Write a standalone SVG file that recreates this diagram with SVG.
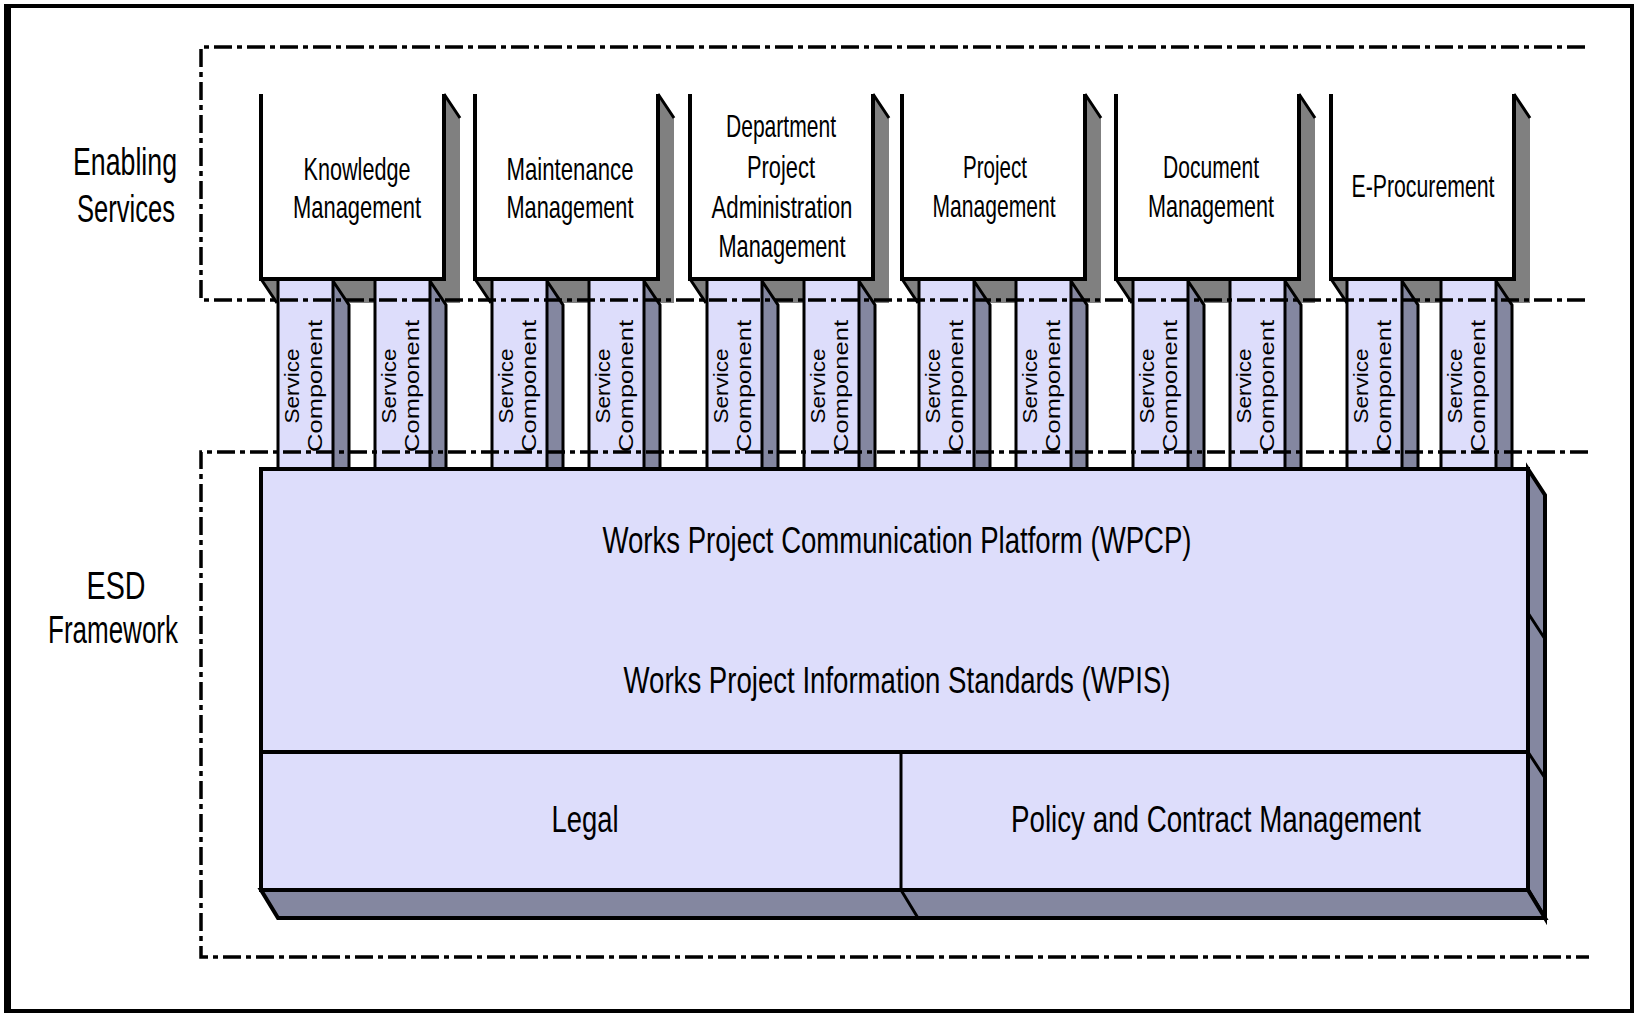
<svg xmlns="http://www.w3.org/2000/svg" xmlns:xlink="http://www.w3.org/1999/xlink" width="1635" height="1013" viewBox="0 0 1635 1013">
<style>
.t{font-family:"Liberation Sans",Arial,sans-serif;fill:#000;text-anchor:middle}
.lbl{font-size:38px}
.bx{font-size:32px}
.big{font-size:36px}
.sc{font-size:20px}
.edge{fill:none;stroke:#000;stroke-width:4}
.ln{fill:none;stroke:#000;stroke-width:3}
.shade{fill:#808080}
.front{fill:#fff}
.lav{fill:#DDDDFB}
.side{fill:#8487A0}
.dash{fill:none;stroke:#000;stroke-width:3.5;stroke-dasharray:18 5 5 5}
</style>
<defs>
<g id="colshape">
<rect class="lav" x="0" y="281" width="55" height="188"/>
<polygon class="side" points="55,281 71,305 71,469 55,469"/>
<path class="ln" d="M0,281V469M55,281V469M55,281L71,305V469"/>
</g>
<g id="boxshade">
<polygon class="shade" points="0,279 183,279 183,94 199,118 199,303 16,303"/>
<path class="ln" d="M183,94L199,118M0,279L16,303"/>
</g>
<g id="boxfront">
<rect class="front" x="0" y="94" width="183" height="185"/>
<polyline class="edge" points="0,94 0,279 183,279 183,94"/>
</g>
</defs>

<rect x="6" y="6" width="1626" height="1005" fill="#fff" stroke="#000" stroke-width="4"/>
<line x1="7.5" y1="4" x2="7.5" y2="1013" stroke="#000" stroke-width="7"/>

<g id="side-labels">
<text class="t lbl" x="125" y="175" textLength="104" lengthAdjust="spacingAndGlyphs">Enabling</text>
<text class="t lbl" x="126" y="222" textLength="98" lengthAdjust="spacingAndGlyphs">Services</text>
<text class="t lbl" x="116" y="599" textLength="59" lengthAdjust="spacingAndGlyphs">ESD</text>
<text class="t lbl" x="113" y="643" textLength="130" lengthAdjust="spacingAndGlyphs">Framework</text>
</g>

<!-- Box 1 -->
<g id="box-knowledge">
<use xlink:href="#boxshade" x="261"/>
<g id="sc-1a"><use xlink:href="#colshape" x="278"/>
<text class="t sc" transform="translate(299,386) rotate(-90)" textLength="75" lengthAdjust="spacingAndGlyphs">Service</text>
<text class="t sc" transform="translate(322,386) rotate(-90)" textLength="132" lengthAdjust="spacingAndGlyphs">Component</text></g>
<g id="sc-1b"><use xlink:href="#colshape" x="375"/>
<text class="t sc" transform="translate(396,386) rotate(-90)" textLength="75" lengthAdjust="spacingAndGlyphs">Service</text>
<text class="t sc" transform="translate(419,386) rotate(-90)" textLength="132" lengthAdjust="spacingAndGlyphs">Component</text></g>
<use xlink:href="#boxfront" x="261"/>
<text class="t bx" x="357" y="180" textLength="107" lengthAdjust="spacingAndGlyphs">Knowledge</text>
<text class="t bx" x="357" y="218" textLength="128" lengthAdjust="spacingAndGlyphs">Management</text>
</g>

<!-- Box 2 -->
<g id="box-maintenance">
<use xlink:href="#boxshade" x="475"/>
<g id="sc-2a"><use xlink:href="#colshape" x="492"/>
<text class="t sc" transform="translate(513,386) rotate(-90)" textLength="75" lengthAdjust="spacingAndGlyphs">Service</text>
<text class="t sc" transform="translate(536,386) rotate(-90)" textLength="132" lengthAdjust="spacingAndGlyphs">Component</text></g>
<g id="sc-2b"><use xlink:href="#colshape" x="589"/>
<text class="t sc" transform="translate(610,386) rotate(-90)" textLength="75" lengthAdjust="spacingAndGlyphs">Service</text>
<text class="t sc" transform="translate(633,386) rotate(-90)" textLength="132" lengthAdjust="spacingAndGlyphs">Component</text></g>
<use xlink:href="#boxfront" x="475"/>
<text class="t bx" x="570" y="180" textLength="127" lengthAdjust="spacingAndGlyphs">Maintenance</text>
<text class="t bx" x="570" y="218" textLength="127" lengthAdjust="spacingAndGlyphs">Management</text>
</g>

<!-- Box 3 -->
<g id="box-dpam">
<use xlink:href="#boxshade" x="690"/>
<g id="sc-3a"><use xlink:href="#colshape" x="707"/>
<text class="t sc" transform="translate(728,386) rotate(-90)" textLength="75" lengthAdjust="spacingAndGlyphs">Service</text>
<text class="t sc" transform="translate(751,386) rotate(-90)" textLength="132" lengthAdjust="spacingAndGlyphs">Component</text></g>
<g id="sc-3b"><use xlink:href="#colshape" x="804"/>
<text class="t sc" transform="translate(825,386) rotate(-90)" textLength="75" lengthAdjust="spacingAndGlyphs">Service</text>
<text class="t sc" transform="translate(848,386) rotate(-90)" textLength="132" lengthAdjust="spacingAndGlyphs">Component</text></g>
<use xlink:href="#boxfront" x="690"/>
<text class="t bx" x="781" y="137" textLength="110" lengthAdjust="spacingAndGlyphs">Department</text>
<text class="t bx" x="781" y="178" textLength="68" lengthAdjust="spacingAndGlyphs">Project</text>
<text class="t bx" x="782" y="218" textLength="141" lengthAdjust="spacingAndGlyphs">Administration</text>
<text class="t bx" x="782" y="257" textLength="127" lengthAdjust="spacingAndGlyphs">Management</text>
</g>

<!-- Box 4 -->
<g id="box-project">
<use xlink:href="#boxshade" x="902"/>
<g id="sc-4a"><use xlink:href="#colshape" x="919"/>
<text class="t sc" transform="translate(940,386) rotate(-90)" textLength="75" lengthAdjust="spacingAndGlyphs">Service</text>
<text class="t sc" transform="translate(963,386) rotate(-90)" textLength="132" lengthAdjust="spacingAndGlyphs">Component</text></g>
<g id="sc-4b"><use xlink:href="#colshape" x="1016"/>
<text class="t sc" transform="translate(1037,386) rotate(-90)" textLength="75" lengthAdjust="spacingAndGlyphs">Service</text>
<text class="t sc" transform="translate(1060,386) rotate(-90)" textLength="132" lengthAdjust="spacingAndGlyphs">Component</text></g>
<use xlink:href="#boxfront" x="902"/>
<text class="t bx" x="995" y="178" textLength="64" lengthAdjust="spacingAndGlyphs">Project</text>
<text class="t bx" x="994" y="217" textLength="123" lengthAdjust="spacingAndGlyphs">Management</text>
</g>

<!-- Box 5 -->
<g id="box-document">
<use xlink:href="#boxshade" x="1116"/>
<g id="sc-5a"><use xlink:href="#colshape" x="1133"/>
<text class="t sc" transform="translate(1154,386) rotate(-90)" textLength="75" lengthAdjust="spacingAndGlyphs">Service</text>
<text class="t sc" transform="translate(1177,386) rotate(-90)" textLength="132" lengthAdjust="spacingAndGlyphs">Component</text></g>
<g id="sc-5b"><use xlink:href="#colshape" x="1230"/>
<text class="t sc" transform="translate(1251,386) rotate(-90)" textLength="75" lengthAdjust="spacingAndGlyphs">Service</text>
<text class="t sc" transform="translate(1274,386) rotate(-90)" textLength="132" lengthAdjust="spacingAndGlyphs">Component</text></g>
<use xlink:href="#boxfront" x="1116"/>
<text class="t bx" x="1211" y="178" textLength="96" lengthAdjust="spacingAndGlyphs">Document</text>
<text class="t bx" x="1211" y="217" textLength="126" lengthAdjust="spacingAndGlyphs">Management</text>
</g>

<!-- Box 6 -->
<g id="box-eprocurement">
<use xlink:href="#boxshade" x="1331"/>
<g id="sc-6a"><use xlink:href="#colshape" x="1347"/>
<text class="t sc" transform="translate(1368,386) rotate(-90)" textLength="75" lengthAdjust="spacingAndGlyphs">Service</text>
<text class="t sc" transform="translate(1391,386) rotate(-90)" textLength="132" lengthAdjust="spacingAndGlyphs">Component</text></g>
<g id="sc-6b"><use xlink:href="#colshape" x="1441"/>
<text class="t sc" transform="translate(1462,386) rotate(-90)" textLength="75" lengthAdjust="spacingAndGlyphs">Service</text>
<text class="t sc" transform="translate(1485,386) rotate(-90)" textLength="132" lengthAdjust="spacingAndGlyphs">Component</text></g>
<use xlink:href="#boxfront" x="1331"/>
<text class="t bx" x="1423" y="197" textLength="143" lengthAdjust="spacingAndGlyphs">E-Procurement</text>
</g>

<!-- ESD framework block -->
<g id="esd-platform">
<polygon class="side" points="1528,469 1545,495 1545,918 1528,890" stroke="#000" stroke-width="4" stroke-linejoin="miter"/>
<polygon class="side" points="261,890 1528,890 1545,918 278,918" stroke="#000" stroke-width="4"/>
<path class="ln" d="M1528,613L1545,639M1528,752L1545,778M901,890L918,918"/>
<rect class="lav" x="261" y="469" width="1267" height="421" stroke="#000" stroke-width="4"/>
<line x1="261" y1="752" x2="1528" y2="752" stroke="#000" stroke-width="4"/>
<line x1="901" y1="752" x2="901" y2="890" stroke="#000" stroke-width="3"/>
<text class="t big" x="897" y="553" textLength="589" lengthAdjust="spacingAndGlyphs">Works Project Communication Platform (WPCP)</text>
<text class="t big" x="897" y="693" textLength="547" lengthAdjust="spacingAndGlyphs">Works Project Information Standards (WPIS)</text>
</g>
<g id="legal">
<text class="t big" x="585" y="832" textLength="67" lengthAdjust="spacingAndGlyphs">Legal</text>
</g>
<g id="policy">
<text class="t big" x="1216" y="832" textLength="410" lengthAdjust="spacingAndGlyphs">Policy and Contract Management</text>
</g>

<g id="regions">
<path class="dash" d="M1585,47H201V300H1588"/>
<path class="dash" d="M1588,452H201V957H1589"/>
</g>
</svg>
